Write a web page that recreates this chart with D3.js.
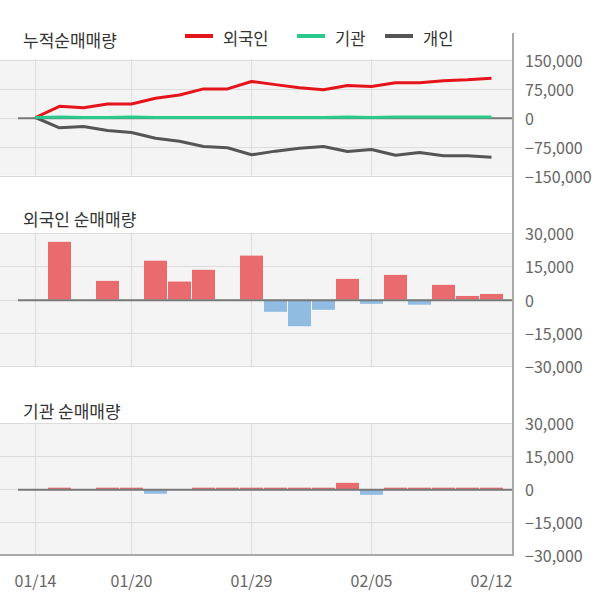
<!DOCTYPE html>
<html><head><meta charset="utf-8">
<script src="https://cdn.jsdelivr.net/npm/d3@7"></script>
<style>body{margin:0;background:#fff}svg{display:block}</style>
</head><body>
<script>
const dates = ["01/14","01/15","01/16","01/17","01/20","01/21","01/22","01/23","01/28","01/29","01/30","01/31","02/03","02/04","02/05","02/06","02/07","02/10","02/11","02/12"];
const tickDates = ["01/14","01/20","01/29","02/05","02/12"];
const cumForeign = [0,29000,25000,35000,35000,50000,58000,74000,74000,93000,85000,77000,72000,83000,80000,90000,90000,95000,97500,101500];
const cumInst = [0,1500,0,0,1500,0,0,0,0,0,0,0,0,1500,0,1500,1500,1500,1500,1500];
const cumIndiv = [0,-26700,-23300,-33600,-38800,-53500,-61500,-75000,-78400,-96500,-87000,-79400,-75000,-88000,-82800,-97500,-90500,-99000,-99000,-103000];
const netForeign = [0,26000,0,8400,0,17500,8100,13400,0,19800,-5100,-11600,-4200,9300,-1500,11100,-1900,6600,1600,2500];
const netInst = [0,600,0,600,600,-1700,0,600,600,600,600,600,600,2800,-2200,600,600,600,600,600];
const cumTicks = [150000,75000,0,-75000,-150000];
const netTicks = [30000,15000,0,-15000,-30000];
const legendNames = ["외국인","기관","개인"];
const titles = ["누적순매매량","외국인 순매매량","기관 순매매량"];

const W = 600, H = 604;
const font = '"Noto Sans CJK KR","Noto Sans",sans-serif';
const svg = d3.select("body").append("svg").attr("width",W).attr("height",H);
const x = d3.scalePoint().domain(dates).range([35.5,491.5]);
const plotL = 0, plotR = 512;
const fmt = d3.format(",");

const panels = [
  {y: d3.scaleLinear().domain([-150000,150000]).range([175.5,59.5]), ticks: cumTicks},
  {y: d3.scaleLinear().domain([-30000,30000]).range([366,233]), ticks: netTicks},
  {y: d3.scaleLinear().domain([-30000,30000]).range([555,423]), ticks: netTicks}
];

panels.forEach(p => {
  const [b,t] = p.y.range();
  svg.append("rect").attr("x",plotL).attr("y",t).attr("width",plotR-plotL).attr("height",b-t).attr("fill","#f4f4f4");
  svg.append("g").selectAll("line").data(p.ticks).join("line")
    .attr("x1",plotL).attr("x2",plotR).attr("y1",d=>Math.round(p.y(d))+0.5).attr("y2",d=>Math.round(p.y(d))+0.5)
    .attr("stroke","#dcdcdc").attr("stroke-width",1);
  svg.append("g").selectAll("line").data(tickDates.slice(0,-1)).join("line")
    .attr("x1",d=>x(d)).attr("x2",d=>x(d)).attr("y1",t).attr("y2",b)
    .attr("stroke","#dcdcdc").attr("stroke-width",1);
  svg.append("g").selectAll("text").data(p.ticks).join("text")
    .attr("x",525).attr("y",d=>p.y(d)).attr("dominant-baseline","central")
    .attr("font-family",font).attr("font-size",16).attr("fill","#666").text(d=>fmt(d));
});

function zeroLine(p){
  const y0 = p.y(0);
  svg.append("line").attr("x1",18).attr("x2",plotR).attr("y1",y0+0.8).attr("y2",y0+0.8)
    .attr("stroke","#777").attr("stroke-width",2);
}

function bars(p, data){
  const y0 = p.y(0);
  svg.append("g").selectAll("rect").data(data.map((v,i)=>({d:dates[i],v})).filter(o=>o.v!==0)).join("rect")
    .attr("x",o=>x(o.d)-11.5).attr("width",23)
    .attr("y",o=>o.v>0?p.y(o.v):y0+1).attr("height",o=>Math.abs(p.y(o.v)-y0))
    .attr("fill",o=>o.v>0?"#e96b6e":"#8fbce0");
}

zeroLine(panels[0]);
const lineColors = ["#e5141b","#2ac98c","#555555"];
[cumForeign,cumIndiv,cumInst].forEach((arr,k)=>{
  const col = [lineColors[0],lineColors[2],lineColors[1]][k];
  svg.append("path").datum(arr.map((v,i)=>[dates[i],v]))
    .attr("d",d3.line().x(d=>x(d[0])).y(d=>panels[0].y(d[1])))
    .attr("fill","none").attr("stroke",col).attr("stroke-width",3).attr("stroke-linejoin","round");
});

bars(panels[1], netForeign);
zeroLine(panels[1]);
bars(panels[2], netInst);
zeroLine(panels[2]);

svg.append("line").attr("x1",0).attr("x2",513).attr("y1",555).attr("y2",555).attr("stroke","#aaa").attr("stroke-width",2);
svg.append("line").attr("x1",513).attr("x2",513).attr("y1",33).attr("y2",556).attr("stroke","#aaa").attr("stroke-width",2);

svg.append("g").selectAll("text").data(tickDates).join("text")
  .attr("x",d=>x(d)).attr("y",580).attr("text-anchor","middle").attr("dominant-baseline","central")
  .attr("font-family",font).attr("font-size",16).attr("fill","#666").text(d=>d);

[39,218,410].forEach((ty,i)=>{
  svg.append("text").attr("x",23).attr("y",ty).attr("dominant-baseline","central")
    .attr("font-family",font).attr("font-size",17).attr("fill","#333").text(titles[i]);
});

const legX = [185,297,385];
legendNames.forEach((n,i)=>{
  svg.append("line").attr("x1",legX[i]).attr("x2",legX[i]+28).attr("y1",36).attr("y2",36)
    .attr("stroke",lineColors[i]).attr("stroke-width",4);
  svg.append("text").attr("x",legX[i]+38).attr("y",38).attr("dominant-baseline","central")
    .attr("font-family",font).attr("font-size",16.5).attr("fill","#333").text(n);
});
</script>
</body></html>
